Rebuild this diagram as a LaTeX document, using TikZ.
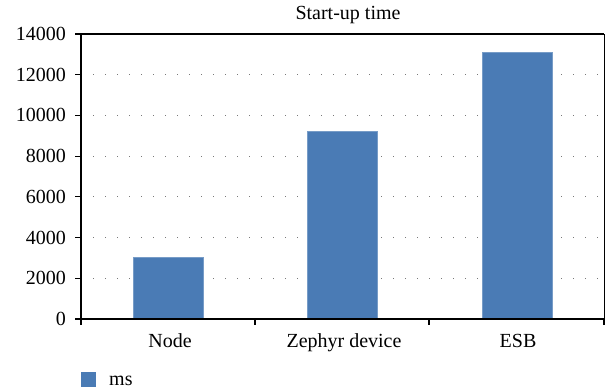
\documentclass[tikz,border=0pt]{standalone}
\usepackage{fontspec}
\newfontfamily\chartfont{Liberation Serif}
\usetikzlibrary{positioning}
\definecolor{barblue}{RGB}{74,123,181}
\definecolor{dotgray}{RGB}{120,120,120}

\begin{document}
\begin{tikzpicture}
[
x=1pt,y=1pt,
font=\chartfont\fontsize{20}{24}\selectfont,
bar/.style={fill=barblue,draw=barblue!75!white,line width=0.6pt,inner sep=0pt,minimum width=70pt,anchor=south},
gridline/.style={dotgray,line width=1pt,dash pattern=on 1pt off 11pt,dash phase=-11pt},
axisline/.style={black,line width=1.2pt},
frameline/.style={black,line width=0.8pt},
catlabel/.style={anchor=base},
vallabel/.style={anchor=east},
]
\useasboundingbox (0,0) rectangle (605,391);

%Place the frame
\coordinate (o) at (81,72);
\coordinate (tr) at (604,357);
\draw[frameline] (o) rectangle (tr);

%Dotted grid
\foreach \v in {2000,4000,...,12000} {
  \pgfmathsetmacro\yy{72+\v*0.020357}
  \draw[gridline] (82,\yy) -- (603,\yy);
}

%Bars
\node[bar,minimum height=61.1pt] (bnode) at (168,72) {};
\node[bar,minimum height=187.3pt] (bzephyr) at (342,72) {};
\node[bar,minimum height=266.7pt] (besb) at (517,72) {};

%Axes and ticks
\draw[axisline] (81,357) -- (81,66);
\draw[axisline] (75,72) -- (604,72);
\draw[axisline] (255,72) -- (255,66);
\draw[axisline] (429,72) -- (429,66);
\draw[axisline] (604,72) -- (604,66);
\draw[axisline] (81,357) -- (604,357);
\foreach \v in {0,2000,...,14000} {
  \pgfmathsetmacro\yy{72+\v*0.020357}
  \draw[axisline] (75,\yy) -- (81,\yy);
  \node[vallabel] (y\v) at (69.5,\yy) {\v};
}

%Labels
\node[catlabel] (lnode) at (170,44) {Node};
\node[catlabel] (lzephyr) at (344,44) {Zephyr device};
\node[catlabel] (lesb) at (518,44) {ESB};
\node[catlabel] (title) at (348,371) {Start-up time};

%Legend
\node[fill=barblue,minimum size=15pt,inner sep=0pt,anchor=south west] (key) at (81,4) {};
\node[anchor=base west,inner sep=0pt] (keylabel) at (109,6) {ms};
\end{tikzpicture}
\end{document}
